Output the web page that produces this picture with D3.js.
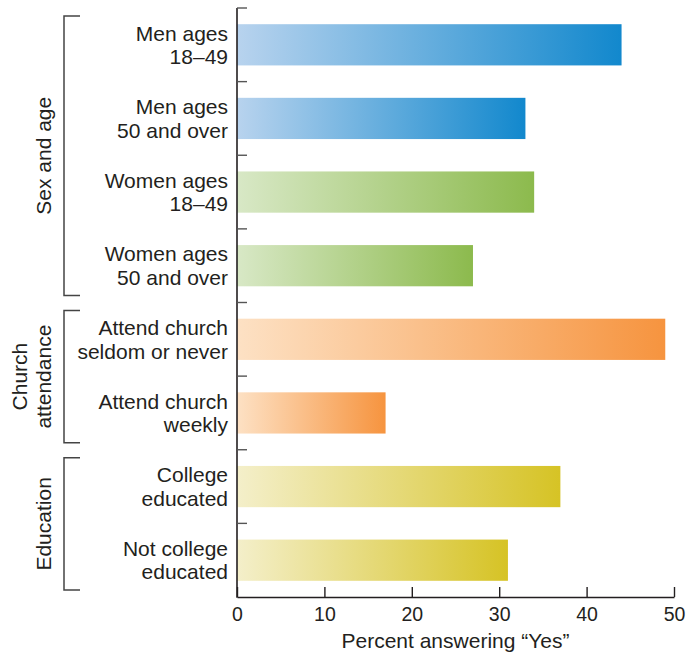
<!DOCTYPE html>
<html>
<head>
<meta charset="utf-8">
<script src="https://cdn.jsdelivr.net/npm/d3@7"></script>
<style>
  html, body { margin: 0; padding: 0; background: #fff; }
  svg { display: block; font-family: "Liberation Sans", Arial, Helvetica, sans-serif; }
</style>
</head>
<body>
<svg id="chart" width="695" height="656"></svg>
<script>
// Survey responses by demographic group
const categories = [
  ["Men ages", "18\u201349"],
  ["Men ages", "50 and over"],
  ["Women ages", "18\u201349"],
  ["Women ages", "50 and over"],
  ["Attend church", "seldom or never"],
  ["Attend church", "weekly"],
  ["College", "educated"],
  ["Not college", "educated"]
];
const values = [44, 33, 34, 27, 49, 17, 37, 31];
const colorGroup = ["blue", "blue", "green", "green", "orange", "orange", "yellow", "yellow"];

const groupNames = [["Sex and age"], ["Church", "attendance"], ["Education"]];
const groupStart = [0, 4, 6];
const groupEnd = [3, 5, 7];

const xTicks = [0, 10, 20, 30, 40, 50];
const axisTitle = "Percent answering \u201CYes\u201D";

// gradient stops: light at the axis, saturated at the bar end
const gradients = {
  blue:   ["#b8d3ee", "#1288cd"],
  green:  ["#d8e8c6", "#8cba4d"],
  orange: ["#fde1c4", "#f6943f"],
  yellow: ["#f4efca", "#d6c325"]
};

const svg = d3.select("#chart");
const ink = "#231f20";

const plotLeft = 237, plotRight = 674, plotTop = 8, plotBottom = 597;

const x = d3.scaleLinear().domain([0, 50]).range([plotLeft, plotRight]);
const y = d3.scaleBand()
  .domain(d3.range(categories.length))
  .range([plotTop, plotBottom])
  .paddingInner(0.44)
  .paddingOuter(0.22);

const defs = svg.append("defs");
Object.entries(gradients).forEach(([name, stops]) => {
  const g = defs.append("linearGradient")
    .attr("id", "grad-" + name)
    .attr("x1", "0").attr("x2", "1").attr("y1", "0").attr("y2", "0");
  g.append("stop").attr("offset", "0%").attr("stop-color", stops[0]);
  g.append("stop").attr("offset", "100%").attr("stop-color", stops[1]);
});

// bars
svg.append("g")
  .selectAll("rect")
  .data(values)
  .join("rect")
  .attr("x", x(0))
  .attr("y", (d, i) => y(i))
  .attr("width", d => x(d) - x(0))
  .attr("height", y.bandwidth())
  .attr("fill", (d, i) => `url(#grad-${colorGroup[i]})`);

// x axis with ticks pointing into the plot
const xAxis = svg.append("g")
  .attr("transform", `translate(0,${plotBottom})`)
  .call(d3.axisBottom(x).tickValues(xTicks).tickFormat(d3.format("d"))
    .tickSizeInner(-10).tickSizeOuter(0).tickPadding(10));
xAxis.select(".domain").attr("stroke", ink).attr("stroke-width", 1.6);
xAxis.selectAll(".tick line").attr("stroke", ink).attr("stroke-width", 1.4);
xAxis.selectAll(".tick text")
  .attr("fill", ink)
  .style("font-size", "19.5px");

svg.append("text")
  .attr("x", (plotLeft + plotRight) / 2)
  .attr("y", 648)
  .attr("text-anchor", "middle")
  .attr("fill", ink)
  .style("font-size", "21px")
  .text(axisTitle);

// vertical category axis with separators between bands
const step = y.step();
const boundaries = d3.range(categories.length).map(i => y.range()[0] + i * step);
svg.append("line")
  .attr("x1", plotLeft).attr("x2", plotLeft)
  .attr("y1", plotTop).attr("y2", plotBottom + 0.8)
  .attr("stroke", ink).attr("stroke-width", 1.6);
svg.append("g")
  .selectAll("line")
  .data(boundaries)
  .join("line")
  .attr("x1", plotLeft).attr("x2", plotLeft + 10)
  .attr("y1", d => d).attr("y2", d => d)
  .attr("stroke", "#555").attr("stroke-width", 1.4);

// category labels, two lines each
const labels = svg.append("g")
  .selectAll("text")
  .data(categories)
  .join("text")
  .attr("text-anchor", "end")
  .attr("fill", ink)
  .style("font-size", "21px");
labels.each(function(lines, i) {
  const c = y(i) + y.bandwidth() / 2;
  d3.select(this).selectAll("tspan")
    .data(lines)
    .join("tspan")
    .attr("x", 228)
    .attr("y", (d, j) => c - 4.3 + j * 23.5)
    .text(d => d);
});

// group brackets and rotated group names
groupNames.forEach((name, gi) => {
  const y0 = boundaries[groupStart[gi]] + 8;
  const y1 = (groupEnd[gi] + 1 < categories.length ? boundaries[groupEnd[gi] + 1] : plotBottom) - 7;
  svg.append("path")
    .attr("d", `M80,${y0}H64V${y1}H80`)
    .attr("fill", "none")
    .attr("stroke", "#444")
    .attr("stroke-width", 1.5);
  const cy = (y0 + y1) / 2;
  const t = svg.append("text")
    .attr("transform", `translate(0,${cy}) rotate(-90)`)
    .attr("text-anchor", "middle")
    .attr("fill", ink)
    .style("font-size", "21px");
  const n = name.length;
  name.forEach((line, j) => {
    t.append("tspan")
      .attr("x", 0)
      .attr("y", 51 - (n - 1 - j) * 24)
      .text(line);
  });
});
</script>
</body>
</html>
